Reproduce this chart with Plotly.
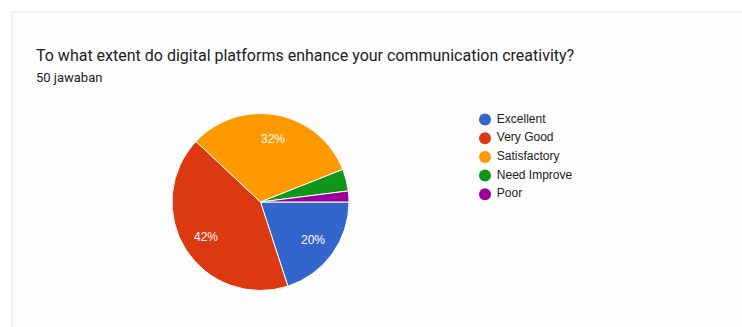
import math
import plotly.graph_objects as go

# Survey responses (50 answers)
labels = ["Excellent", "Very Good", "Satisfactory", "Need Improve", "Poor"]
counts = [10, 21, 16, 2, 1]
colors = ["#3366CC", "#DC3912", "#FF9900", "#109618", "#990099"]

title_text = "To what extent do digital platforms enhance your communication creativity?"
subtitle_text = "50 jawaban"

W, H = 742, 327
total = sum(counts)

# pie geometry in pixels (center and radius)
CX, CY, R = 260.5, 202.0, 88.5
START_DEG = 90.0  # first slice starts at 3 o'clock, going clockwise

fig = go.Figure()

fig.add_trace(go.Pie(
    labels=labels,
    values=counts,
    sort=False,
    direction="clockwise",
    rotation=START_DEG,
    marker=dict(colors=colors, line=dict(color="#ffffff", width=1)),
    textinfo="none",
    showlegend=False,
    hoverinfo="label+percent",
    domain=dict(x=[(CX - R) / W, (CX + R) / W], y=[(H - CY - R) / H, (H - CY + R) / H]),
))

# percentage labels placed at each slice's mid angle
annotations = []
acc = 0.0
for c in counts:
    frac = c / total
    mid = math.radians(START_DEG + 360.0 * (acc + frac / 2))
    acc += frac
    if frac < 0.05:
        continue
    px = CX + 0.73 * R * math.sin(mid)
    py = CY - 0.73 * R * math.cos(mid)
    annotations.append(dict(
        text=f"{round(100 * frac)}%", xref="paper", yref="paper",
        x=px / W, y=1 - py / H, xanchor="center", yanchor="middle", showarrow=False,
        font=dict(family="Liberation Sans, Arial, sans-serif", size=12, color="#ffffff"),
    ))

# legend drawn as a marker column with labels on hidden pixel axes
LEG_X, LEG_Y0, LEG_DY = 485.0, 119.5, 18.7
fig.add_trace(go.Scatter(
    x=[LEG_X] * len(labels),
    y=[LEG_Y0 + i * LEG_DY for i in range(len(labels))],
    mode="markers+text",
    text=[" " + l for l in labels],
    textposition="middle right",
    textfont=dict(family="Liberation Sans, Arial, sans-serif", size=12, color="#222222"),
    marker=dict(symbol="circle", size=12, color=colors, line=dict(width=0)),
    showlegend=False,
    hoverinfo="skip",
    cliponaxis=False,
))

annotations += [
    dict(text=title_text, xref="paper", yref="paper",
         x=34 / W, y=1 - 55 / H, xanchor="left", yanchor="middle",
         showarrow=False,
         font=dict(family="Roboto, sans-serif", size=16, color="#202124")),
    dict(text=subtitle_text, xref="paper", yref="paper",
         x=34 / W, y=1 - 77 / H, xanchor="left", yanchor="middle",
         showarrow=False,
         font=dict(family="Roboto, sans-serif", size=13, color="#202124")),
]

fig.update_layout(
    width=W, height=H,
    margin=dict(l=0, r=0, t=0, b=0),
    paper_bgcolor="#ffffff",
    plot_bgcolor="rgba(0,0,0,0)",
    xaxis=dict(visible=False, range=[0, W], domain=[0, 1], fixedrange=True),
    yaxis=dict(visible=False, range=[H, 0], domain=[0, 1], fixedrange=True),
    showlegend=False,
    shapes=[
        # card background
        dict(type="rect", xref="paper", yref="paper",
             x0=12 / W, x1=1.02, y0=-0.05, y1=1 - 12 / H,
             fillcolor="#fdfdfd", line=dict(color="#e2e2e2", width=1), layer="below"),
    ],
    annotations=annotations,
)

fig.write_html("out.html")
